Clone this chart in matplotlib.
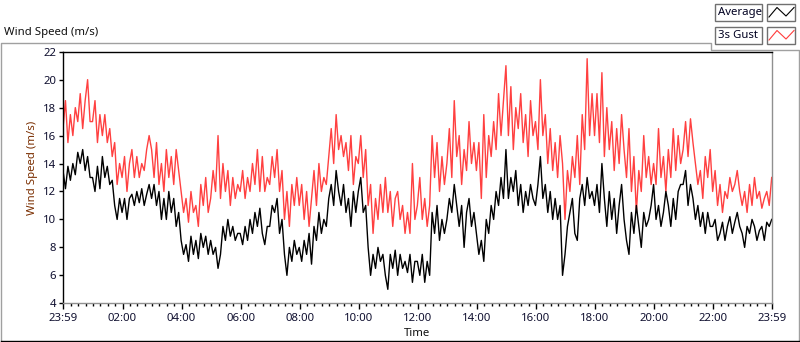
import numpy as np
import matplotlib.pyplot as plt
from matplotlib.patches import Rectangle
from matplotlib.lines import Line2D

plt.rcParams['font.family'] = ['Noto Sans', 'DejaVu Sans']

# 5-minute samples, minutes counted from 23:59 (one row per hour)
gust = [
    16.5, 18.5, 15.5, 17.5, 16, 18, 17, 19, 16.5, 18.5, 20, 17,
    17, 18.5, 15.5, 17.5, 16, 17.5, 15.5, 16.5, 14.5, 15.5, 12.5, 14,
    13, 14.5, 12, 14, 15, 13, 14.5, 13, 14, 13.5, 15, 16,
    15, 13, 15.5, 12.5, 14, 12, 15, 13, 14.5, 12.5, 15, 13.5,
    12, 10.5, 11.5, 9.8, 12, 10.5, 11, 9.5, 12.5, 11, 13, 10.5,
    11.5, 13.5, 12, 16, 11.5, 14, 12, 13.5, 11, 13, 11.5, 12.5,
    12, 13.5, 11.5, 13, 12, 14, 12.5, 15, 12, 14.5, 12, 13,
    12.5, 14.5, 13, 15, 12, 13.5, 10, 12, 9.5, 12.5, 11, 13,
    11, 12.5, 10, 12, 9.5, 11.5, 13.5, 11, 14, 12, 13, 12.5,
    14.5, 16.5, 14, 17.5, 15, 16, 14.5, 15.5, 13.5, 16, 12.5, 14.5,
    14, 16, 13, 15, 11, 12.5, 9, 11.5, 10, 12.5, 10.5, 13,
    10.5, 12, 9.5, 11.5, 12, 10, 11, 9, 10.5, 9, 14, 10,
    11, 13, 10, 11.5, 9.5, 11, 16, 13, 15.5, 12, 14.5, 12.5,
    14, 16.5, 13, 18.5, 14.5, 16, 12.5, 15, 13.5, 17, 14, 15.5,
    13.5, 15.5, 11.5, 17.5, 13, 16, 14.5, 17, 15, 19, 16, 18.5,
    21, 16, 19.5, 15, 18, 16.5, 19, 15.5, 17.5, 14.5, 18.5, 16,
    17, 15, 20, 16, 17.5, 14, 16.5, 13.5, 15.5, 13, 16, 14,
    10, 13.5, 12, 14.5, 13, 16, 12.5, 17.5, 15, 21.5, 16, 19,
    16, 19, 15.5, 20.5, 14.5, 18, 15, 17, 13.5, 16.5, 14, 17.5,
    15, 13, 16.5, 12, 14.5, 10.5, 13.5, 12, 16, 13, 14.5, 12.5,
    14, 12.5, 16.5, 13, 14.5, 12, 15, 13, 16.5, 13.5, 16, 14,
    15, 17, 14.5, 17.2, 15.5, 14, 12.5, 13.5, 11.5, 14.5, 13, 15,
    12, 13.5, 11, 12.5, 10.5, 12, 11.5, 13, 12, 12.5, 13.5, 12,
    11, 12, 10.5, 12.5, 11, 13, 11.5, 12, 10.8, 11.5, 12, 11, 13,
]
average = [
    13.5, 12.2, 13.8, 12.8, 14, 13.2, 14.8, 14, 15, 13.5, 14.5, 13,
    13, 12, 13.8, 12.2, 14.5, 13, 13.8, 12.5, 12.8, 11, 10, 11.5,
    10.5, 11.5, 10, 11.5, 11.8, 11, 12, 11.2, 12.2, 11, 11.8, 12.5,
    11.5, 12.5, 11, 12, 10, 11.5, 10, 12, 10.5, 11.5, 9.5, 10.5,
    8.5, 7.5, 8.2, 7, 8.8, 7.5, 8.5, 7.2, 9, 8, 8.8, 7.5,
    8.5, 7.5, 8, 6.5, 7.5, 9.5, 8.5, 10, 8.8, 9.5, 8.5, 9,
    9, 8.2, 9.5, 8.5, 10, 9, 10.5, 9.5, 10.8, 9, 8.2, 9.5,
    9.5, 11, 10.5, 11.5, 9, 10, 7.5, 6, 8, 7, 8.5, 7.5,
    8, 7, 8.5, 7.5, 9, 6.8, 9.5, 8.5, 10.5, 9, 10, 9.5,
    11.5, 12.5, 11, 13.5, 12, 11, 12.5, 10.5, 11.5, 9.5, 12, 10.5,
    12, 13, 10.5, 11, 8, 6, 7.5, 6.5, 8, 7, 7.5, 6,
    5, 7.5, 6.5, 7.8, 6, 7.5, 6.5, 7, 6.2, 7.5, 5.5, 7,
    7, 6, 7.5, 5.5, 7, 6, 10.5, 9, 11, 8.5, 10, 9,
    10, 11.5, 10.5, 12.5, 11, 9.5, 11, 8, 10.5, 11.5, 9.5, 10.5,
    9, 7.5, 8.5, 7, 10, 9, 11, 10, 12, 11, 13, 11.5,
    15, 11.5, 13, 12, 13.5, 11, 12.5, 10.5, 12, 11, 12.5, 11.5,
    11, 12.5, 14.5, 11.5, 12.5, 10.5, 12, 10, 11.5, 10, 11, 6,
    7.5, 9.5, 10.5, 11.5, 9, 8.5, 11.5, 12.5, 11, 13, 11.5, 12,
    11, 12.5, 10.5, 14, 11.5, 9.5, 12, 10, 11.5, 9, 11, 12.5,
    10, 8.5, 7.5, 10.5, 9, 11, 9.5, 8, 10.5, 9.5, 10, 11,
    12.5, 10, 11, 9.5, 10.5, 12, 11, 9.5, 11.5, 10, 12, 12.5,
    12.5, 13.5, 11, 12.5, 11.5, 10, 11, 9.5, 10.5, 9, 10.5, 9.5,
    9.5, 10, 8.5, 9, 9.8, 8.5, 9.5, 10.2, 9, 9.8, 10.5, 9.5,
    9, 8, 9.5, 9, 10, 9.5, 8.5, 9.2, 9.5, 8.5, 9.8, 9.5, 10,
]
minutes = np.arange(len(gust)) * 5

tick_pos = [0, 121, 241, 361, 481, 601, 721, 841, 961, 1081, 1201, 1321, 1440]
tick_labels = ['23:59', '02:00', '04:00', '06:00', '08:00', '10:00', '12:00',
               '14:00', '16:00', '18:00', '20:00', '22:00', '23:59']
y_ticks = list(range(4, 23, 2))

W, H = 800, 342
fig = plt.figure(figsize=(W / 100, H / 100), dpi=100)

# overlay in pixel coordinates for the panel frame and the legend
deco = fig.add_axes([0, 0, 1, 1])
deco.set_xlim(0, W)
deco.set_ylim(H, 0)
deco.axis('off')

grey = '#a0a0a0'
deco.add_line(Line2D([1, 1, 711, 711, 799, 799], [341, 42.5, 42.5, 50, 50, 341], color=grey, lw=1))
deco.add_line(Line2D([1, 799], [341, 341], color='black', lw=1))
deco.text(4, 32, 'Wind Speed (m/s)', fontsize=8.2, va='center', ha='left', color='#101010')

for y0, name, col in [(4, 'Average', 'black'), (27, '3s Gust', '#ff3c3c')]:
    deco.add_patch(Rectangle((715, y0), 47, 16.5, fill=False, ec='#707070', lw=1))
    deco.add_patch(Rectangle((767, y0), 28, 16.5, fill=False, ec='#707070', lw=1))
    deco.text(717.5, y0 + 8.6, name, fontsize=8.2, va='center', ha='left', color='#000020')
    deco.add_line(Line2D([769, 777, 786, 794],
                         [y0 + 13, y0 + 3.5, y0 + 12, y0 + 3.5], color=col, lw=0.8))

ax = fig.add_axes([63 / W, 1 - 303.3 / H, 708.7 / W, 251.6 / H])
ax.plot(minutes, gust, color='#ff4040', lw=1.0)
ax.plot(minutes, average, color='black', lw=1.0)
ax.set_xlim(0, 1440)
ax.set_ylim(4, 22)

ax.set_yticks(y_ticks)
ax.set_xticks(tick_pos)
ax.set_xticklabels(tick_labels)
ax.set_xticks([1 + 15 * k for k in range(96) if k % 8 != 0], minor=True)
ax.tick_params(axis='both', labelsize=8.2, colors='black', labelcolor='#101030', width=1)
ax.tick_params(axis='x', which='major', length=4, pad=3)
ax.tick_params(axis='x', which='minor', length=2.5, width=1)
ax.tick_params(axis='y', length=3, pad=2)

ax.spines['top'].set_color('black')
ax.spines['left'].set_color('black')
ax.spines['right'].set_color('#909090')
ax.spines['bottom'].set_color('#909090')
for s in ax.spines.values():
    s.set_linewidth(1)

fig.text(32 / W, 1 - 168 / H, 'Wind Speed (m/s)', rotation=90, fontsize=8.2,
         ha='center', va='center', color='#7a2e00')
fig.text(417 / W, 1 - 334 / H, 'Time', fontsize=8.2, ha='center', va='center', color='#101010')

fig.savefig('out.png', dpi=100, facecolor='white')
